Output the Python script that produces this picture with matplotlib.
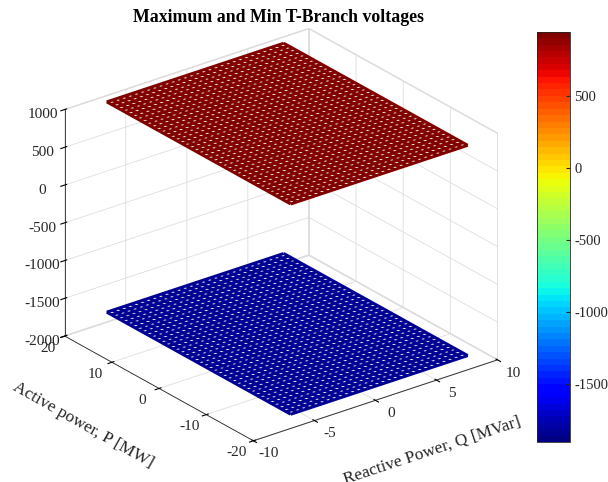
import numpy as np
import matplotlib
matplotlib.use('Agg')
import matplotlib.pyplot as plt
from matplotlib import cm, colors

plt.rcParams['font.family'] = ['Liberation Serif', 'DejaVu Serif']
plt.rcParams['axes.unicode_minus'] = False
plt.rcParams['text.color'] = '#262626'
plt.rcParams['ytick.color'] = '#262626'

# grid of operating points
q_vals = np.arange(-6.75, 7.76, 0.5)   # Reactive power Q [MVar]
p_vals = np.arange(-19.5, 19.51, 1.0)  # Active power P [MW]
v_max_level = 944.0                    # max T-branch voltage
v_min_level = -1840.0                  # min T-branch voltage
c_lo, c_hi = -1900.0, 944.0            # colour limits

z_ticks = [-2000, -1500, -1000, -500, 0, 500, 1000]
x_ticks = [-10, -5, 0, 5, 10]
y_ticks = [-20, -10, 0, 10, 20]
cbar_ticks = [-1500, -1000, -500, 0, 500]

Q, P = np.meshgrid(q_vals, p_vals)
v_max = np.full(Q.shape, v_max_level)
v_min = np.full(Q.shape, v_min_level)

cmap = plt.get_cmap('jet', 64)
norm = colors.Normalize(c_lo, c_hi)
dark = '#262626'

fig = plt.figure(figsize=(6.08, 4.82), dpi=100)
ax = fig.add_axes([-0.008, 0.015, 0.92, 0.97], projection='3d')
ax.set_proj_type('ortho')
ax.view_init(elev=25.4, azim=-127.7)
ax.set_box_aspect((1, 1, 0.813), zoom=1.045)

# mesh style: coloured lines, small white gaps
for v in (v_max, v_min):
    ax.plot_wireframe(Q, P, v, rstride=1, cstride=1,
                      color=cmap(norm(v[0, 0])), linewidth=2.15)

ax.set_xlim(-10, 10)
ax.set_ylim(-20, 20)
ax.set_zlim(-2000, 1000)
ax.set_xticks(x_ticks)
ax.set_yticks(y_ticks)
ax.set_zticks(z_ticks)
ax.xaxis.set_tick_params(labelbottom=False)
ax.yaxis.set_tick_params(labelbottom=False)
ax.tick_params(axis='z', labelsize=11, pad=1, labelcolor=dark)

for a in (ax.xaxis, ax.yaxis, ax.zaxis):
    a.set_pane_color((1, 1, 1, 1))
    a.pane.set_edgecolor((0.85, 0.85, 0.85))
    a._axinfo['grid']['color'] = (0.87, 0.87, 0.87)
    a._axinfo['grid']['linewidth'] = 0.6
    a._axinfo['tick']['color'] = dark
    a.line.set_color(dark)
    a.line.set_linewidth(0.6)

# tick labels lying in the floor plane, MATLAB style
for q in x_ticks:
    ax.text(q, -23.3, -2060, str(q), ha='center', va='center', fontsize=11)
for p in y_ticks:
    ax.text(-11.4, p, -2086, str(p), ha='center', va='center', fontsize=11)

fig.text(432 / 608, 1 - 450 / 482, 'Reactive Power, Q [MVar]', fontsize=12.5,
         rotation=18.4, ha='center', va='center')
fig.text(83 / 608, 1 - 425 / 482, 'Active power, P [MW]', fontsize=12.5,
         rotation=-29.5, ha='center', va='center')
fig.text(278 / 608, 1 - 18 / 482, 'Maximum and Min T-Branch voltages',
         fontsize=12.8, fontweight='bold', ha='center', va='center',
         color='k')

cax = fig.add_axes([0.883, 0.083, 0.054, 0.851])
sm = cm.ScalarMappable(norm=norm, cmap=cmap)
cb = fig.colorbar(sm, cax=cax, ticks=cbar_ticks)
cb.ax.tick_params(labelsize=10.5, direction='in', length=3, color=dark)
cb.outline.set_linewidth(0.6)
cb.outline.set_edgecolor(dark)

fig.savefig('out.png', dpi=100)
